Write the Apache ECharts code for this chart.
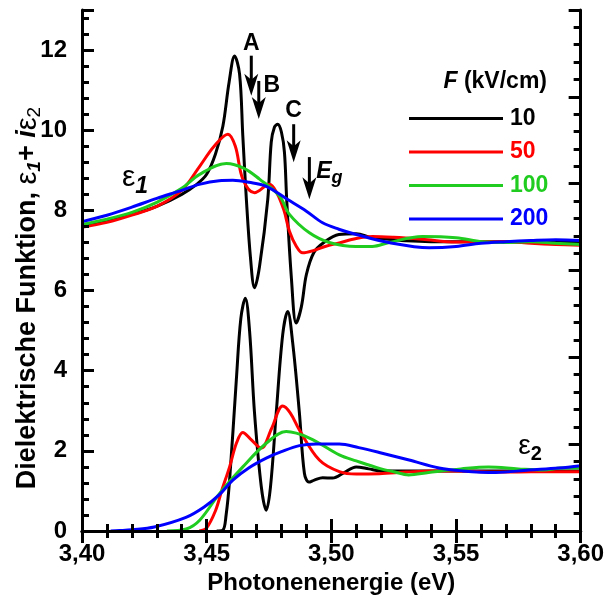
<!DOCTYPE html>
<html>
<head>
<meta charset="utf-8">
<script src="https://cdn.jsdelivr.net/npm/echarts@6/dist/echarts.min.js"></script>
<style>
html,body{margin:0;padding:0;background:#fff}
#chart{width:607px;height:601px}
</style>
</head>
<body>
<div id="chart"></div>
<script>
// Field strengths (kV/cm) and their colours
const fields = ['10', '50', '100', '200'];
const colors = ['#000000', '#ff0000', '#1fcc1f', '#0000ff'];

// Real part eps1, F = 10 kV/cm
const e1_10_x = [3.400,3.410,3.420,3.430,3.440,3.446,3.450,3.4535,3.4565,3.459,3.4612,3.4632,3.4645,3.4659,3.4676,3.4692,3.4712,3.4745,3.4759,3.4772,3.4785,3.4800,3.4812,3.4821,3.4840,3.4859,3.4880,3.4900,3.4930,3.4970,3.5030,3.5100,3.5160,3.5230,3.5300,3.5400,3.5500,3.5600,3.5700,3.5800,3.5900,3.6000];
const e1_10_y = [7.62,7.75,7.90,8.10,8.40,8.65,8.90,9.40,10.10,11.20,11.85,11.40,9.86,8.30,6.80,6.07,6.60,8.27,9.70,10.08,10.15,9.95,9.45,8.27,6.30,5.19,5.60,6.40,6.95,7.20,7.40,7.42,7.32,7.28,7.24,7.22,7.22,7.22,7.22,7.20,7.20,7.20];
// Real part eps1, F = 50 kV/cm
const e1_50_x = [3.400,3.410,3.420,3.430,3.440,3.4472,3.4530,3.4585,3.4615,3.4645,3.4692,3.4752,3.4780,3.4810,3.4832,3.4860,3.4885,3.4930,3.4975,3.5032,3.5100,3.5165,3.5250,3.5365,3.5500,3.5600,3.5700,3.5800,3.5900,3.6000];
const e1_50_y = [7.58,7.70,7.88,8.10,8.50,9.10,9.60,9.90,9.60,8.78,8.44,8.65,8.45,8.00,7.48,7.10,6.94,7.00,7.10,7.19,7.30,7.35,7.33,7.28,7.21,7.22,7.22,7.18,7.15,7.13];
// Real part eps1, F = 100 kV/cm
const e1_100_x = [3.400,3.410,3.420,3.430,3.440,3.4472,3.4579,3.4650,3.4712,3.4792,3.4832,3.4912,3.4992,3.5099,3.5164,3.5232,3.5365,3.5500,3.5605,3.5700,3.5800,3.5900,3.6000];
const e1_100_y = [7.65,7.78,7.95,8.20,8.55,8.90,9.17,9.05,8.78,8.36,7.90,7.44,7.20,7.10,7.10,7.20,7.35,7.32,7.22,7.20,7.22,7.18,7.15];
// Real part eps1, F = 200 kV/cm
const e1_200_x = [3.400,3.410,3.420,3.430,3.440,3.447,3.455,3.4605,3.467,3.4739,3.4825,3.4900,3.4965,3.5030,3.5100,3.5230,3.5392,3.5500,3.5600,3.5700,3.5800,3.5900,3.6000];
const e1_200_y = [7.72,7.88,8.08,8.30,8.50,8.65,8.74,8.75,8.70,8.60,8.27,7.98,7.69,7.53,7.40,7.20,7.07,7.10,7.18,7.22,7.25,7.27,7.25];

// Imaginary part eps2, F = 10 kV/cm
const e2_10_x = [3.4540,3.4565,3.4578,3.4592,3.4619,3.4637,3.4655,3.4672,3.4692,3.4719,3.4739,3.4756,3.4779,3.4805,3.4825,3.4845,3.4872,3.4892,3.4910,3.4932,3.4965,3.5005,3.5050,3.5100,3.5150,3.5200,3.5300,3.5400,3.5500,3.5600,3.5700,3.5800,3.5900,3.6000];
const e2_10_y = [0.00,0.02,0.40,1.27,3.77,5.30,5.81,5.00,2.94,1.11,0.52,1.10,2.94,4.90,5.48,4.70,2.94,1.44,1.22,1.27,1.33,1.32,1.45,1.60,1.55,1.50,1.50,1.50,1.50,1.50,1.50,1.50,1.50,1.50];
// Imaginary part eps2, F = 50 kV/cm
const e2_50_x = [3.4470,3.4499,3.4535,3.4560,3.4592,3.4620,3.4645,3.4675,3.4719,3.4760,3.4805,3.4835,3.4872,3.4952,3.5032,3.5100,3.5192,3.5300,3.5400,3.5500,3.5600,3.5700,3.5800,3.5900,3.6000];
const e2_50_y = [0.00,0.07,0.50,1.00,1.60,2.20,2.46,2.30,2.07,2.55,3.12,2.95,2.52,1.77,1.48,1.42,1.43,1.47,1.50,1.50,1.48,1.47,1.48,1.48,1.48];
// Imaginary part eps2, F = 100 kV/cm
const e2_100_x = [3.4340,3.4418,3.4472,3.4552,3.4645,3.4739,3.4819,3.4912,3.5032,3.5100,3.5200,3.5250,3.5310,3.5390,3.5520,3.5630,3.5750,3.5850,3.5920,3.6000];
const e2_100_y = [0.00,0.05,0.27,0.94,1.60,2.19,2.48,2.32,1.90,1.75,1.55,1.48,1.40,1.46,1.55,1.60,1.55,1.52,1.57,1.58];
// Imaginary part eps2, F = 200 kV/cm
const e2_200_x = [3.4115,3.4150,3.4200,3.4290,3.4417,3.4490,3.4550,3.4605,3.4670,3.4739,3.4800,3.4872,3.4939,3.5032,3.5110,3.5192,3.5312,3.5432,3.5525,3.5659,3.5792,3.5912,3.6000];
const e2_200_y = [0.00,0.01,0.03,0.10,0.34,0.60,0.90,1.27,1.58,1.82,1.98,2.13,2.17,2.17,2.08,1.96,1.77,1.57,1.50,1.46,1.52,1.57,1.63];

// Transition markers: label, energy (eV), arrow start and tip (eps)
const markLabels = ['A', 'B', 'C', 'E'];
const markEnergy = [3.4679, 3.4709, 3.4849, 3.4912];
const markFrom = [11.86, 11.23, 10.15, 9.33];
const markTo = [10.86, 10.28, 9.20, 8.28];

const FONT = '"Liberation Sans", Arial, Helvetica, sans-serif';
const zip = (xs, ys) => xs.map((x, i) => [x, ys[i]]);

const eps1 = [zip(e1_10_x, e1_10_y), zip(e1_50_x, e1_50_y), zip(e1_100_x, e1_100_y), zip(e1_200_x, e1_200_y)];
const eps2 = [zip(e2_10_x, e2_10_y), zip(e2_50_x, e2_50_y), zip(e2_100_x, e2_100_y), zip(e2_200_x, e2_200_y)];

const series = [];
fields.forEach((f, i) => {
  [eps1[i], eps2[i]].forEach(d => {
    series.push({
      name: f, type: 'line', data: d, showSymbol: false, symbol: 'none',
      smooth: 0.35, z: 3 + i,
      lineStyle: { color: colors[i], width: 3 },
      itemStyle: { color: colors[i] }
    });
  });
});

const tickLabel = { fontFamily: FONT, fontWeight: 'bold', fontSize: 24, color: '#000' };
const frameLine = { show: true, lineStyle: { color: '#000', width: 3 } };

function axisCommon(extra) {
  return Object.assign({
    type: 'value',
    axisLine: frameLine,
    axisTick: { show: true, inside: true, length: 12, lineStyle: { color: '#000', width: 3 } },
    minorTick: { show: true, inside: true, splitNumber: 5, length: 7, lineStyle: { color: '#000', width: 3 } },
    splitLine: { show: false },
    minorSplitLine: { show: false },
    z: 10
  }, extra);
}

const option = {
  animation: false,
  backgroundColor: '#fff',
  grid: { left: 82, right: 25, top: 10, bottom: 70 },
  xAxis: [
    axisCommon({
      position: 'bottom', min: 3.4, max: 3.6, interval: 0.05,
      axisLabel: Object.assign({ margin: 11, formatter: v => v.toFixed(2).replace('.', ',') }, tickLabel),
      name: 'Photonenenergie (eV)', nameLocation: 'middle', nameGap: 37,
      nameTextStyle: { fontFamily: FONT, fontWeight: 'bold', fontSize: 24, color: '#000' }
    }),
    axisCommon({
      position: 'top', min: 3.4, max: 3.6, interval: 0.05,
      axisLabel: { show: false }
    })
  ],
  yAxis: [
    axisCommon({
      position: 'left', min: 0, max: 13, interval: 2,
      axisLabel: Object.assign({ margin: 15, showMaxLabel: false }, tickLabel)
    }),
    axisCommon({
      position: 'right', min: 0, max: 6, interval: 1,
      axisLabel: { show: false }
    })
  ],
  legend: {
    orient: 'vertical', left: 404, top: 102,
    icon: 'rect', itemWidth: 94, itemHeight: 3, itemGap: 10.5,
    selectedMode: false,
    textStyle: { fontFamily: FONT, fontWeight: 'bold', fontSize: 23, lineHeight: 22, padding: [0, 0, 0, 2] },
    data: fields.map((f, i) => ({ name: f, textStyle: { color: colors[i] } }))
  },
  series: series
};

const chart = echarts.init(document.getElementById('chart'), null, { renderer: 'canvas' });
chart.setOption(option);

// Annotations placed from data coordinates
const toPx = (e, v) => chart.convertToPixel({ xAxisIndex: 0, yAxisIndex: 0 }, [e, v]);
const labelOffset = [[0, -12], [13, 5], [0, -14], [20, 15]];
const graphics = [];
markLabels.forEach((lab, i) => {
  const p0 = toPx(markEnergy[i], markFrom[i]);
  const p1 = toPx(markEnergy[i], markTo[i]);
  graphics.push({
    type: 'line', z: 20,
    shape: { x1: p0[0], y1: p0[1], x2: p1[0], y2: p1[1] - 12 },
    style: { stroke: '#000', lineWidth: 3 }
  });
  graphics.push({
    type: 'polygon', z: 20,
    shape: { points: [[p1[0], p1[1]], [p1[0] - 7, p1[1] - 22], [p1[0], p1[1] - 16], [p1[0] + 7, p1[1] - 22]] },
    style: { fill: '#000' }
  });
  const o = labelOffset[i];
  const text = lab === 'E' ? '{e|E}{g|g}' : lab;
  graphics.push({
    type: 'text', z: 20, x: p0[0] + o[0], y: p0[1] + o[1],
    style: {
      text: text, fill: '#000', align: 'center', verticalAlign: 'middle',
      fontFamily: FONT, fontWeight: 'bold', fontSize: 23,
      rich: {
        e: { fontFamily: FONT, fontWeight: 'bold', fontStyle: 'italic', fontSize: 23, fill: '#000' },
        g: { fontFamily: FONT, fontWeight: 'bold', fontStyle: 'italic', fontSize: 18, fill: '#000', padding: [12, 0, 0, 0] }
      }
    }
  });
});

// eps1 / eps2 curve labels
graphics.push({
  type: 'text', z: 20, x: 135, y: 178,
  style: {
    text: '{e|ε}{s|1}', align: 'center', verticalAlign: 'middle', fill: '#000',
    rich: {
      e: { fontFamily: FONT, fontWeight: 'normal', fontStyle: 'normal', fontSize: 30, fill: '#000' },
      s: { fontFamily: FONT, fontWeight: 'bold', fontStyle: 'italic', fontSize: 23, fill: '#000', padding: [18, 0, 0, 0] }
    }
  }
});
graphics.push({
  type: 'text', z: 20, x: 530, y: 446,
  style: {
    text: '{e|ε}{s|2}', align: 'center', verticalAlign: 'middle', fill: '#000',
    rich: {
      e: { fontFamily: FONT, fontWeight: 'normal', fontStyle: 'normal', fontSize: 28, fill: '#000' },
      s: { fontFamily: FONT, fontWeight: 'bold', fontStyle: 'normal', fontSize: 20, fill: '#000', padding: [16, 0, 0, 0] }
    }
  }
});

// Legend heading
graphics.push({
  type: 'text', z: 20, x: 547, y: 82,
  style: {
    text: '{f|F} (kV/cm)', align: 'right', verticalAlign: 'middle', fill: '#000',
    fontFamily: FONT, fontWeight: 'bold', fontSize: 23,
    rich: {
      f: { fontFamily: FONT, fontWeight: 'bold', fontStyle: 'italic', fontSize: 23, fill: '#000' }
    }
  }
});

// Vertical axis title
graphics.push({
  type: 'text', z: 20, x: 28, y: 298, rotation: Math.PI / 2,
  style: {
    text: 'Dielektrische Funktion, {e|ε}{s1|1}{p|+ }{i|i}{e|ε}{s2|2}',
    align: 'center', verticalAlign: 'middle', fill: '#000',
    fontFamily: FONT, fontWeight: 'bold', fontSize: 27,
    rich: {
      e: { fontFamily: FONT, fontWeight: 'normal', fontStyle: 'normal', fontSize: 29, fill: '#000' },
      s1: { fontFamily: FONT, fontWeight: 'bold', fontStyle: 'italic', fontSize: 19, fill: '#000', padding: [13, 0, 0, 0] },
      p: { fontFamily: FONT, fontWeight: 'bold', fontStyle: 'normal', fontSize: 27, fill: '#000' },
      i: { fontFamily: FONT, fontWeight: 'bold', fontStyle: 'italic', fontSize: 27, fill: '#000' },
      s2: { fontFamily: FONT, fontWeight: 'normal', fontStyle: 'normal', fontSize: 19, fill: '#000', padding: [13, 0, 0, 0] }
    }
  }
});

chart.setOption({ graphic: graphics });
</script>
</body>
</html>
